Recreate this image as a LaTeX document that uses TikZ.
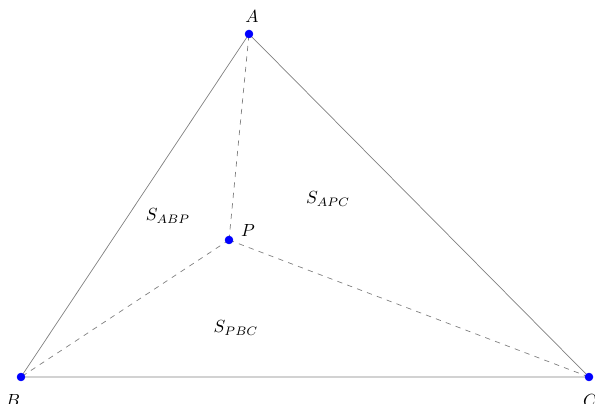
\documentclass[tikz,border=0pt]{standalone}
\usepackage{amsmath}
\usepackage{amssymb}
\usepackage{tikz}

\begin{document}
\begin{tikzpicture}[x=0.02cm, y=-0.02cm]
        \useasboundingbox (0,0) rectangle (595,404);
        \coordinate (A) at (249,34);
        \coordinate (B) at (21,377);
        \coordinate (C) at (589,377);
        \coordinate (P) at (229,240);
        \draw[gray] (A) -- (B) -- (C) -- cycle;
        \draw[gray, dashed] (P) -- (A);
        \draw[gray, dashed] (P) -- (B);
        \draw[gray, dashed] (P) -- (C);
        \filldraw [blue] (A) circle (2.2pt);
        \filldraw [blue] (B) circle (2.2pt);
        \filldraw [blue] (C) circle (2.2pt);
        \filldraw [blue] (P) circle (2.2pt);
        \node (lA) at (252,17) {$A$};
        \node (lB) at (13,401) {$B$};
        \node (lC) at (590,401) {$C$};
        \node (lP) at (248,231) {$P$};
        \node (sabp) at (168,216) {$S_{ABP}$};
        \node (sapc) at (328,199) {$S_{APC}$};
        \node (spbc) at (236,328) {$S_{PBC}$};
    \end{tikzpicture}
\end{document}
